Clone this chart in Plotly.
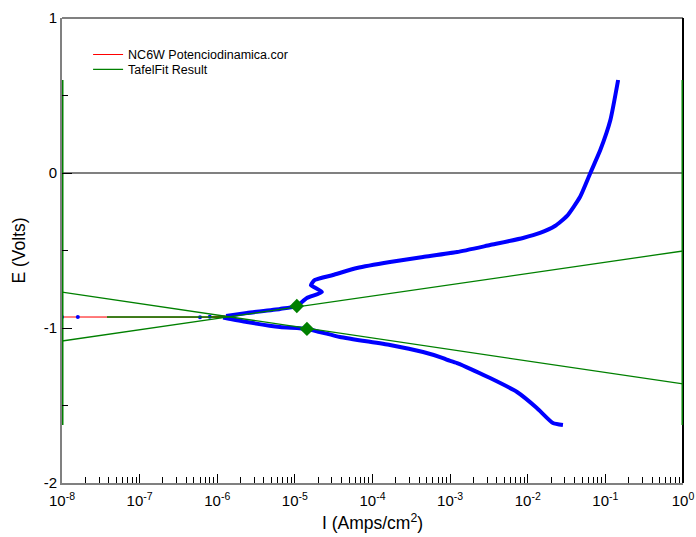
import plotly.graph_objects as go

# Potentiodynamic scan, cathodic branch (from -1.63 V toward Ecorr)
cath_i = [2.84e-2, 2.11e-2, 1.31e-2, 7.28e-3, 3.27e-3, 1.23e-3, 9.0e-4, 8.09e-4,
          4.48e-4, 1.68e-4, 3.81e-5, 1.43e-5, 6.43e-6, 2.41e-6, 1.19e-6]
cath_e = [-1.626, -1.613, -1.516, -1.413, -1.323, -1.226, -1.204, -1.194,
          -1.155, -1.110, -1.058, -1.006, -0.994, -0.961, -0.932]

# Points around Ecorr where the net current is close to zero
ecorr_i = [6.0e-7, 1.6e-8, 1.0e-8, 8.0e-7]
ecorr_e = [-0.930, -0.929, -0.929, -0.928]

# Anodic branch (from Ecorr up to +0.6 V)
anod_i = [1.3e-6, 2.41e-6, 6.43e-6, 1.06e-5, 1.43e-5, 2.23e-5, 1.61e-5,
          1.81e-5, 3.10e-5, 6.31e-5, 1.68e-4, 4.48e-4, 1.23e-3, 3.27e-3, 8.69e-3,
          1.44e-2, 2.24e-2, 3.21e-2, 4.71e-2, 6.40e-2, 8.60e-2, 0.116, 0.146]
anod_e = [-0.922, -0.903, -0.877, -0.858, -0.806, -0.768, -0.723,
          -0.690, -0.658, -0.613, -0.574, -0.542, -0.510, -0.465, -0.419,
          -0.387, -0.342, -0.277, -0.155, 0.0, 0.148, 0.342, 0.600]

# Tafel fit: anodic and cathodic lines, Ecorr segment, data-range edges, fit points
tafel_a_i = [1e-8, 1.0]
tafel_a_e = [-1.084, -0.503]
tafel_c_i = [1e-8, 1.0]
tafel_c_e = [-0.768, -1.361]
ecorr_seg_i = [3.8e-8, 1.2e-6]
ecorr_seg_e = [-0.929, -0.929]
edge_i = [1e-8, 1e-8, None, 1.0, 1.0]
edge_e = [0.600, -1.626, None, 0.600, -1.626]
fit_pts_i = [1.06e-5, 1.43e-5]
fit_pts_e = [-0.858, -1.006]

x_tickvals = [1e-8, 1e-7, 1e-6, 1e-5, 1e-4, 1e-3, 1e-2, 1e-1, 1.0]
x_ticktext = ["10<sup>-8</sup>", "10<sup>-7</sup>", "10<sup>-6</sup>", "10<sup>-5</sup>",
              "10<sup>-4</sup>", "10<sup>-3</sup>", "10<sup>-2</sup>", "10<sup>-1</sup>",
              "10<sup>0</sup>"]
y_tickvals = [-2, -1, 0, 1]
y_ticktext = ["-2", "-1", "0", "1"]

FONT = "Arial, Liberation Sans, sans-serif"
GREEN = "#008000"

all_i = cath_i + ecorr_i + anod_i
all_e = cath_e + ecorr_e + anod_e

fig = go.Figure()

# measured data: red connecting line, dense blue points on top
fig.add_trace(go.Scatter(x=all_i, y=all_e, mode="lines", name="NC6W Potenciodinamica.cor",
                         legend="legend", line=dict(color="red", width=1.2)))
fig.add_trace(go.Scatter(x=cath_i + [None] + anod_i, y=cath_e + [None] + anod_e,
                         mode="lines", showlegend=False,
                         line=dict(color="#0000ff", width=4, shape="spline", smoothing=0.5)))
fig.add_trace(go.Scatter(x=ecorr_i, y=ecorr_e, mode="markers", showlegend=False,
                         marker=dict(color="#0000ff", size=4)))

# Tafel fit
fig.add_trace(go.Scatter(x=tafel_a_i + [None] + tafel_c_i + [None] + ecorr_seg_i + [None] + edge_i,
                         y=tafel_a_e + [None] + tafel_c_e + [None] + ecorr_seg_e + [None] + edge_e,
                         mode="lines", name="TafelFit Result", legend="legend2",
                         line=dict(color=GREEN, width=1.3)))
fig.add_trace(go.Scatter(x=edge_i, y=edge_e, mode="lines", showlegend=False,
                         line=dict(color=GREEN, width=3)))
fig.add_trace(go.Scatter(x=fit_pts_i, y=fit_pts_e, mode="markers", showlegend=False,
                         marker=dict(symbol="diamond", color=GREEN, size=11)))

# frame: top in gray, right in black
fig.add_shape(type="line", xref="paper", yref="paper", x0=0, x1=1, y0=1, y1=1,
              line=dict(color="#808080", width=2), layer="below")
fig.add_shape(type="line", xref="paper", yref="paper", x0=1, x1=1, y0=0, y1=1,
              line=dict(color="black", width=2), layer="below")

legend_style = dict(xanchor="left", yanchor="top", bgcolor="rgba(0,0,0,0)",
                    font=dict(size=12.5, family=FONT, color="black"))

fig.update_layout(
    width=696, height=537,
    margin=dict(l=62, r=13, t=18, b=54),
    paper_bgcolor="white", plot_bgcolor="white",
    font=dict(family=FONT, size=15, color="black"),
    showlegend=True,
    legend=dict(x=0.042, y=0.953, **legend_style),
    legend2=dict(x=0.042, y=0.921, **legend_style),
    xaxis=dict(
        type="log", range=[-8, 0], automargin=False,
        tickmode="array", tickvals=x_tickvals, ticktext=x_ticktext,
        ticks="inside", ticklen=9, tickwidth=1, tickcolor="black",
        ticklabelstandoff=3,
        minor=dict(ticks="inside", ticklen=6, tickwidth=1, tickcolor="black",
                   tickmode="array",
                   tickvals=[m * 10.0 ** k for k in range(-8, 0) for m in range(2, 10)]),
        showline=True, linecolor="#808080", linewidth=2,
        showgrid=False, zeroline=False,
        tickfont=dict(size=15, family=FONT),
        title=dict(text="I (Amps/cm<sup>2</sup>)", font=dict(size=17.5, family=FONT), standoff=9),
    ),
    yaxis=dict(
        range=[-2, 1], automargin=False,
        tickmode="array", tickvals=y_tickvals, ticktext=y_ticktext,
        ticks="inside", ticklen=10, tickwidth=1, tickcolor="black",
        minor=dict(ticks="inside", ticklen=6, tickwidth=1, tickcolor="black",
                   tickmode="array", tickvals=[-1.5, -0.5, 0.5]),
        showline=True, linecolor="#808080", linewidth=2,
        showgrid=False,
        zeroline=True, zerolinecolor="#808080", zerolinewidth=2,
        tickfont=dict(size=15, family=FONT),
        title=dict(text="E (Volts)", font=dict(size=17.5, family=FONT), standoff=14),
    ),
)

fig.write_html("out.html")
